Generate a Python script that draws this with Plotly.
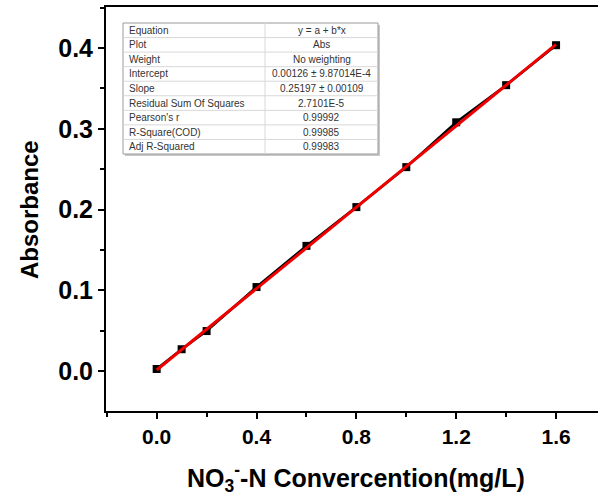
import plotly.graph_objects as go

# Data
conc = [0.0, 0.1, 0.2, 0.4, 0.6, 0.8, 1.0, 1.2, 1.4, 1.6]
absorbance = [0.0025, 0.027, 0.0495, 0.104, 0.155, 0.203, 0.2525, 0.308, 0.354, 0.4035]
intercept = 0.00126
slope = 0.25197
fit_x = [0.0, 1.6]
fit_y = [intercept + slope * v for v in fit_x]

table_labels = ["Equation", "Plot", "Weight", "Intercept", "Slope",
                "Residual Sum Of Squares", "Pearson's r", "R-Square(COD)", "Adj R-Squared"]
table_values = ["y = a + b*x", "Abs", "No weighting", "0.00126 ± 9.87014E-4",
                "0.25197 ± 0.00109", "2.7101E-5", "0.99992", "0.99985", "0.99983"]

W, H = 598, 499
ml, mr, mt, mb = 106, 0, 7, 88
pw, ph = W - ml - mr, H - mt - mb

def px(xp):
    return (xp - ml) / pw

def py(yp):
    return (H - mb - yp) / ph

fig = go.Figure()
fig.add_trace(go.Scatter(x=conc, y=absorbance, mode="lines+markers",
                         line=dict(color="black", width=2.5),
                         marker=dict(symbol="square", size=8, color="black"),
                         showlegend=False))
fig.add_trace(go.Scatter(x=fit_x, y=fit_y, mode="lines",
                         line=dict(color="#ee0000", width=3),
                         showlegend=False))

FONT = "Liberation Sans, Arial, sans-serif"

shapes = []
annotations = []
# table geometry (pixels)
tl, tr, tt, tb = 123, 378, 23, 154
cdiv = 265
nrows = len(table_labels)
rh = (tb - tt) / nrows
# shadow
shapes.append(dict(type="rect", xref="paper", yref="paper",
                   x0=px(tl + 2), x1=px(tr + 2), y0=py(tb + 2), y1=py(tt + 2),
                   fillcolor="#c8c8c8", line=dict(width=0), layer="above"))
shapes.append(dict(type="rect", xref="paper", yref="paper",
                   x0=px(tl), x1=px(tr), y0=py(tb), y1=py(tt),
                   fillcolor="white", line=dict(color="#9a9a9a", width=1), layer="above"))
for i in range(1, nrows):
    yy = tt + i * rh
    shapes.append(dict(type="line", xref="paper", yref="paper",
                       x0=px(tl), x1=px(tr), y0=py(yy), y1=py(yy),
                       line=dict(color="#d8d8d8", width=1), layer="above"))
shapes.append(dict(type="line", xref="paper", yref="paper",
                   x0=px(cdiv), x1=px(cdiv), y0=py(tb), y1=py(tt),
                   line=dict(color="#d8d8d8", width=1), layer="above"))
for i, (lab, val) in enumerate(zip(table_labels, table_values)):
    yc = tt + (i + 0.5) * rh
    annotations.append(dict(x=px(tl + 4), y=py(yc), xref="paper", yref="paper",
                            text=lab, showarrow=False, xanchor="left", yanchor="middle",
                            font=dict(family=FONT, size=10, color="#333333")))
    annotations.append(dict(x=px((cdiv + tr) / 2), y=py(yc), xref="paper", yref="paper",
                            text=val, showarrow=False, xanchor="center", yanchor="middle",
                            font=dict(family=FONT, size=10, color="#333333")))

# axis titles
annotations.append(dict(x=px(356), y=py(478), xref="paper", yref="paper",
                        text="<b>NO<sub>3</sub><sup>-</sup>-N Convercention(mg/L)</b>",
                        showarrow=False, xanchor="center", yanchor="middle",
                        font=dict(family=FONT, size=25, color="black")))
annotations.append(dict(x=px(29), y=py(210), xref="paper", yref="paper",
                        text="<b>Absorbance</b>", textangle=-90,
                        showarrow=False, xanchor="center", yanchor="middle",
                        font=dict(family=FONT, size=24, color="black")))

fig.update_layout(
    width=W, height=H,
    margin=dict(l=ml, r=mr, t=mt, b=mb),
    paper_bgcolor="white", plot_bgcolor="white",
    shapes=shapes, annotations=annotations,
    font=dict(family=FONT, color="black"),
)
fig.update_xaxes(range=[-0.203, 1.768], tick0=0, dtick=0.4, tickformat=".1f",
                 showgrid=False, zeroline=False,
                 showline=True, linecolor="black", linewidth=2, mirror=True,
                 ticks="outside", ticklen=6, tickwidth=2, tickcolor="black",
                 minor=dict(ticks="outside", ticklen=4, tickwidth=2, tickcolor="black", dtick=0.2, tick0=0),
                 tickfont=dict(family=FONT, size=21, color="black", weight="bold"))
fig.update_yaxes(range=[-0.0495, 0.4508], tick0=0, dtick=0.1, tickformat=".1f",
                 showgrid=False, zeroline=False,
                 showline=True, linecolor="black", linewidth=2, mirror=False,
                 ticks="outside", ticklen=6, tickwidth=2, tickcolor="black",
                 minor=dict(ticks="outside", ticklen=4, tickwidth=2, tickcolor="black", dtick=0.05, tick0=0),
                 tickfont=dict(family=FONT, size=25, color="black", weight="bold"))

fig.write_html("out.html")
